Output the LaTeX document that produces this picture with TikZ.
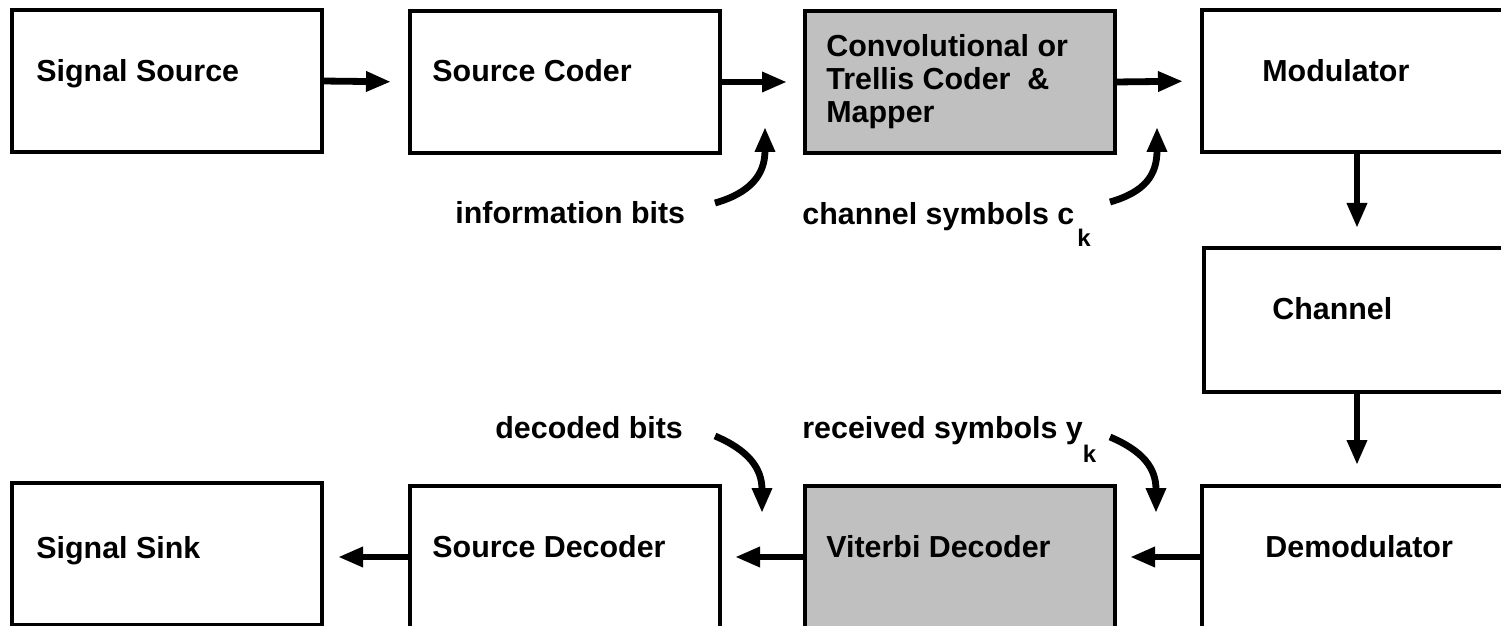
\documentclass[tikz,border=0pt]{standalone}
\usepackage{fontspec}
\setmainfont{Liberation Sans}
\usetikzlibrary{arrows.meta,positioning}
\definecolor{boxgray}{HTML}{C0C0C0}

\begin{document}
\begin{tikzpicture}[x=0.5pt, y=-0.5pt,
  blk/.style={draw, line width=2pt, rectangle, minimum width=155pt,
    minimum height=71pt, inner sep=0pt, outer sep=0pt},
  shaded/.style={blk, fill=boxgray},
  txt/.style={inner sep=0pt, font=\bfseries\fontsize{15.2}{16.5}\selectfont},
  flow/.style={line width=3.4pt, -{Triangle[length=12.5pt, width=9.5pt]}}]
  \useasboundingbox (0,0) rectangle (1501,626);
  \clip (0,0) rectangle (1501,626);
  % transmitter row
  \node[blk] (src) at (167,81) {};
  \node[blk] (scod) at (565,82) {};
  \node[shaded] (conv) at (960,82) {};
  \node[blk] (mod) at (1357,81) {};
  % channel
  \node[blk, minimum height=72pt] (chan) at (1359,320) {};
  % receiver row
  \node[blk] (demod) at (1357,557) {};
  \node[shaded] (vit) at (960,557) {};
  \node[blk] (sdec) at (565,557) {};
  \node[blk] (sink) at (167,554) {};
  % box texts
  \node[txt, anchor=base west] (t-src) at (36,82) {Signal Source};
  \node[txt, anchor=base west] (t-scod) at (432,82) {Source Coder};
  \node[txt, anchor=west, align=left] (t-conv) at (826,82)
    {Convolutional or\\Trellis Coder\ \ \&\\Mapper};
  \node[txt, anchor=base west] (t-mod) at (1262,82) {Modulator};
  \node[txt, anchor=base west] (t-chan) at (1272,320) {Channel};
  \node[txt, anchor=base west] (t-demod) at (1265,557) {Demodulator};
  \node[txt, anchor=base west] (t-vit) at (826,557) {Viterbi Decoder};
  \node[txt, anchor=base west] (t-sdec) at (432,557) {Source Decoder};
  \node[txt, anchor=base west] (t-sink) at (36,558) {Signal Sink};
  % signal labels
  \node[txt, anchor=base west] (l-info) at (455,224) {information bits};
  \node[txt, anchor=base west] (l-chsym) at (802,225)
    {channel symbols c\hspace{1.5pt}\raisebox{-11pt}{\fontsize{12}{12}\selectfont k}};
  \node[txt, anchor=base west] (l-dec) at (495,438) {decoded bits};
  \node[txt, anchor=base west] (l-rxsym) at (802,438)
    {received symbols y\raisebox{-12pt}{\fontsize{12}{12}\selectfont k}};
  % forward path
  \draw[flow, shorten >=9.5pt] (src.east) -- (scod.west);
  \draw[flow, shorten >=9pt] (scod.east) -- (conv.west);
  \draw[flow, shorten >=9.5pt] (conv.east) -- (mod.west);
  \draw[flow, shorten >=10pt] (mod.south) -- (mod.south |- chan.north);
  \draw[flow, shorten >=10.5pt] (chan.south -| mod.south) -- (demod.north);
  % return path
  \draw[flow, shorten >=7.5pt] (demod.west) -- (vit.east);
  \draw[flow, shorten >=7.5pt] (vit.west) -- (sdec.east);
  \draw[flow, shorten >=8pt] (sdec.west) -- (sdec.west -| sink.east);
  % pointers to the signals
  \coordinate (p-info) at (715,203);
  \coordinate (q-info) at (765,127);
  \coordinate (p-chsym) at (1110,202);
  \coordinate (q-chsym) at (1157,127);
  \coordinate (p-dec) at (715,436);
  \coordinate (q-dec) at (762,513);
  \coordinate (p-rxsym) at (1110,437);
  \coordinate (q-rxsym) at (1156,513);
  \draw[flow] (p-info) .. controls (750,193) and (765,175) .. (q-info);
  \draw[flow] (p-chsym) .. controls (1145,192) and (1157,175) .. (q-chsym);
  \draw[flow] (p-dec) .. controls (748,450) and (762,468) .. (q-dec);
  \draw[flow] (p-rxsym) .. controls (1143,451) and (1156,468) .. (q-rxsym);
\end{tikzpicture}
\end{document}
